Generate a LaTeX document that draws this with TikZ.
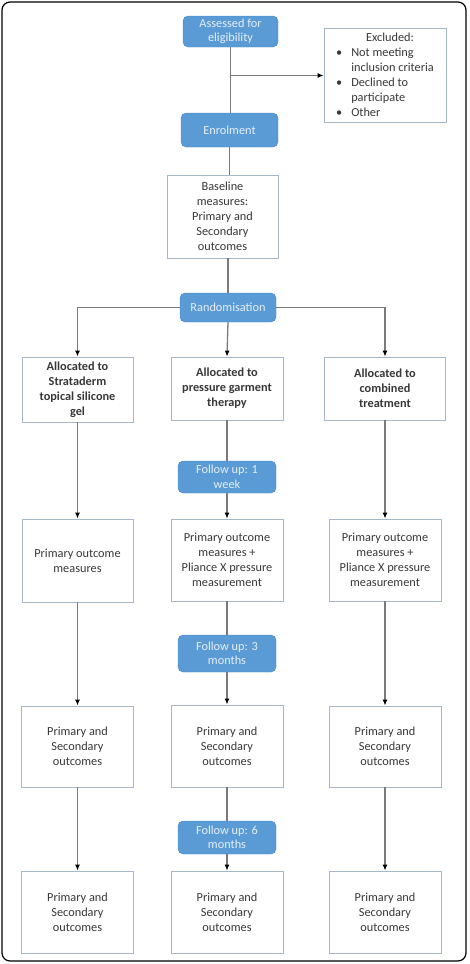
\documentclass[tikz,border=0pt]{standalone}
\usepackage{fontspec}
\setmainfont{Carlito}
\usepackage{tikz}
\usetikzlibrary{arrows.meta}

\definecolor{stageblue}{HTML}{5B9BD5}
\definecolor{stageedge}{HTML}{4A89C4}
\definecolor{stagetext}{HTML}{E4EEF8}
\definecolor{boxedge}{HTML}{A7B7C7}
\definecolor{linkgray}{HTML}{7A7A7A}

\tikzset{
  stage/.style={fill=stageblue, draw=stageedge, rounded corners=5pt, text=stagetext,
                align=center, inner sep=2pt, font=\fontsize{12.3}{14.5}\selectfont},
  outcome/.style={fill=white, draw=boxedge, line width=0.8pt, align=center, inner sep=2pt,
                  text=black!78, font=\fontsize{12.3}{15}\selectfont},
  link/.style={draw=linkgray, line width=1.3pt},
  flow/.style={link, -{Latex[length=6pt,width=5pt,color=black]}}
}

\begin{document}
\begin{tikzpicture}[x=1pt,y=-1pt]
                \useasboundingbox (0,0) rectangle (469,964);
                \draw [line width=1.2pt, rounded corners=8pt] (2,2) rectangle (466,961);

                % screening
                \node [stage, minimum width=95pt, minimum height=31pt] (assess) at (230.5,31.5) {Assessed for\\eligibility};
                \node [outcome, minimum width=122pt, minimum height=87pt] (excl) at (385,75.5)
                  {\begin{tabular}{@{}l@{\hspace{9pt}}l@{}}
                    \multicolumn{2}{c}{\hspace{10pt}Excluded:}\\
                    \textbullet & Not meeting\\
                     & inclusion criteria\\
                    \textbullet & Declined to\\
                     & participate\\
                    \textbullet & Other
                   \end{tabular}};
                \node [stage, minimum width=97pt, minimum height=34pt] (enrol) at (229.5,130) {Enrolment};
                \node [outcome, minimum width=111pt, minimum height=83pt] (base) at (222.5,216.5) {Baseline\\measures:\\Primary and\\Secondary\\outcomes};
                \node [stage, minimum width=96pt, minimum height=29pt] (rand) at (228,307.5) {Randomisation};

                % arms
                \node [outcome, font=\fontsize{12.3}{15}\selectfont\bfseries, minimum width=111pt, minimum height=65pt] (alloc1) at (77.5,389.5) {Allocated to\\Strataderm\\topical silicone\\gel};
                \node [outcome, font=\fontsize{12.3}{15}\selectfont\bfseries, minimum width=112pt, minimum height=63pt] (alloc2) at (227,388.5) {Allocated to\\pressure garment\\therapy};
                \node [outcome, font=\fontsize{12.3}{15}\selectfont\bfseries, minimum width=121pt, minimum height=63pt] (alloc3) at (385,388.5) {Allocated to\\combined\\treatment};

                \node [stage, minimum width=98pt, minimum height=32pt] (week1) at (227,477) {Follow up: 1\\week};
                \node [outcome, minimum width=111pt, minimum height=83pt] (prim1) at (77.5,560.5) {Primary outcome\\measures};
                \node [outcome, minimum width=112pt, minimum height=82pt] (prim2) at (227,560) {Primary outcome\\measures +\\Pliance X pressure\\measurement};
                \node [outcome, minimum width=112pt, minimum height=82pt] (prim3) at (385,560) {Primary outcome\\measures +\\Pliance X pressure\\measurement};

                \node [stage, minimum width=98pt, minimum height=37pt] (month3) at (227,653.5) {Follow up: 3\\months};
                \node [outcome, minimum width=112pt, minimum height=81pt] (sec1) at (77.5,746.5) {Primary and\\Secondary\\outcomes};
                \node [outcome, minimum width=112pt, minimum height=82pt] (sec2) at (227,746) {Primary and\\Secondary\\outcomes};
                \node [outcome, minimum width=112pt, minimum height=81pt] (sec3) at (385,746.5) {Primary and\\Secondary\\outcomes};

                \node [stage, minimum width=98pt, minimum height=33pt] (month6) at (227,837.5) {Follow up: 6\\months};
                \node [outcome, minimum width=112pt, minimum height=82pt] (last1) at (77.5,912) {Primary and\\Secondary\\outcomes};
                \node [outcome, minimum width=112pt, minimum height=82pt] (last2) at (227,912) {Primary and\\Secondary\\outcomes};
                \node [outcome, minimum width=112pt, minimum height=82pt] (last3) at (385,912) {Primary and\\Secondary\\outcomes};

                % connectors
                \coordinate (split) at (assess.south |- excl.west);
                \draw [link] (assess.south) -- (assess.south |- enrol.north);
                \draw [flow] (split) -- (excl.west);
                \draw [link] (enrol.south) -- (enrol.south |- base.north);
                \draw [link] (rand.north |- base.south) -- (rand.north);
                \draw [flow] (rand.west) -| (alloc1.north);
                \draw [flow] (rand.east) -| (alloc3.north);
                \draw [flow] (rand.south) -- (alloc2.north);

                \draw [flow] (alloc1) -- (prim1);
                \draw [flow] (prim1) -- (sec1);
                \draw [flow] (sec1) -- (last1);
                \draw [flow] (alloc3) -- (prim3);
                \draw [flow] (prim3) -- (sec3);
                \draw [flow] (sec3) -- (last3);

                \draw [link] (alloc2) -- (week1);
                \draw [flow] (week1) -- (prim2);
                \draw [link] (prim2) -- (month3);
                \draw [flow] (month3) -- (sec2);
                \draw [link] (sec2) -- (month6);
                \draw [flow] (month6) -- (last2);
            \end{tikzpicture}
\end{document}
